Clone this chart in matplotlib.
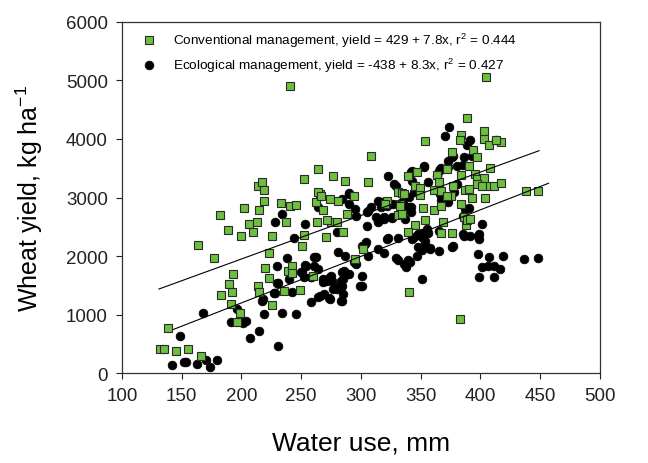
import matplotlib
matplotlib.use("Agg")
import matplotlib.pyplot as plt
import numpy as np

# conventional management (green squares): water use (mm), yield (kg/ha)
conv_x = [132, 135, 139, 145, 155, 166,
          164, 177, 182, 189, 200, 202, 206, 210, 213, 215, 214, 217, 219, 219,
          226, 223, 220, 223, 214, 215, 193, 190, 192, 183, 191, 199, 196,
          226, 236, 239, 242, 242,
          233, 237, 241, 246, 252, 251, 252, 262, 266, 263, 268, 274, 271, 275, 280, 281, 288, 285, 287, 294,
          260, 249, 306, 264, 267, 272, 264, 277, 241, 308,
          302, 295,
          322, 331, 333, 331, 320, 333, 334,
          389, 354, 384, 383, 403, 403, 407, 417, 413,
          376, 394, 397, 372, 390, 408,
          364, 384, 395, 397, 403, 339, 347, 365,
          397, 401, 408, 411, 417, 345, 349, 361, 367, 377, 387, 390,
          336, 349, 375, 393, 404, 438, 448,
          352, 361, 367, 384, 354, 369, 345, 386, 388, 334, 372,
          339, 367, 376, 389, 391,
          340, 383, 405]
conv_y = [420, 420, 780, 385, 420, 290,
          2190, 1965, 2700, 2440, 2350, 2830, 2550, 2420, 2590, 2790, 3200, 3260, 3130, 2940,
          2350, 2060, 1800, 1630, 1490, 1390, 1690, 1520, 1390, 1345, 1190, 1030, 875,
          1160, 1410, 1745, 1830, 1715,
          2910, 2580, 2855, 2880, 2365, 2180, 3320, 2920, 3065, 2580, 2780, 2980, 2335, 2580, 2590, 2950, 2720, 2420, 3275, 3025,
          1660, 1425, 3265, 3100, 3035, 2610, 3490, 3370, 4900, 3710,
          2125, 1955,
          2950, 3095, 2895, 2705, 2890, 2865, 3080,
          4360, 3965, 4070, 3975, 4130, 4005, 3890, 3945, 3990,
          3785, 3820, 3685, 3490, 3545, 3500,
          3390, 3390, 3405, 3320, 3330, 3360, 3445, 3265,
          3235, 3205, 3205, 3205, 3245, 3205, 3160, 3130, 3120, 3205, 3135, 3150,
          3065, 3045, 3035, 2990, 3000, 3120, 3120,
          2820, 2795, 2865, 2895, 2620, 2580, 2535, 2665, 2525, 2725, 3025,
          2410, 2395, 2395, 2610, 2640,
          1395, 930, 5065]

# ecological management (black circles)
eco_x = [142, 154, 152, 163, 170, 174, 180, 149, 168, 196, 191, 198, 201, 204, 207, 215,
         217, 219, 231, 227, 234, 246, 231, 230, 238, 240, 242, 253, 244, 252, 253, 251, 258, 262,
         264, 268, 274, 277, 274, 266, 258, 228, 234, 264, 284, 290, 290, 295, 296, 305, 305, 314,
         314, 280, 281, 287, 284, 288, 285, 294, 296, 301, 299, 301, 303, 306, 314,
         264, 269, 273, 278, 284,
         304, 322, 331, 319, 329, 331,
         254, 261, 261, 250, 230, 228, 218,
         276, 272, 268, 275, 283, 284, 280, 285, 283, 290, 286, 258,
         344, 348, 351, 355, 354, 348, 351, 358, 347, 339, 336, 341, 338, 365, 376, 386, 391,
         398, 399, 398, 407, 419, 436, 448, 401, 406, 411, 416, 399, 411, 351, 401,
         328, 344, 356, 380, 378, 367, 366, 317, 308,
         327, 335, 341, 335, 342, 337, 319, 314, 326,
         323, 343, 351, 352, 355, 356, 353, 358, 377, 365,
         385, 399, 387, 301,
         374, 370, 391, 389, 413, 376, 373, 367, 365, 386, 393, 385, 353, 343, 340, 334,
         337, 342, 368, 373, 390, 385,
         323, 329, 290, 306, 317, 322, 313, 319, 326,
         394, 353, 342, 343, 366, 364, 373, 377, 380]
eco_y = [145, 190, 200, 155, 230, 115, 225, 638, 1028, 1105, 885, 900, 862, 901, 601, 731,
         1243, 1016, 475, 1369, 1035, 1016, 1545, 1830, 1972, 1613, 1397, 2552, 2319, 1642, 1852, 1738, 1653, 1983,
         1784, 1613, 1642, 1442, 1271, 1328, 1215, 2591, 2723, 2837, 2979, 3064, 2893, 2808, 2694, 2752, 2523, 2950,
         2608, 2410, 2069, 2000, 1727, 1698, 1613, 1898, 1869, 1670, 1499, 2182, 2210, 2011, 2125,
         1301, 1357, 1284, 1471, 1243,
         2240, 2296, 2313, 2051, 1966, 1937,
         1840, 1840, 1983, 1727, 1540, 1369, 1272,
         1584, 1584, 1556, 1670, 1584, 1499, 1442, 1357, 1243, 1698, 1755, 1642,
         2324, 2381, 2336, 2427, 2256, 2154, 2108, 2142, 2011, 1937, 1869, 1898, 1823, 2096, 2165, 2353, 2353,
         2353, 2296, 2040, 1983, 2000, 1954, 1966, 1812, 1840, 1840, 1784, 1642, 1642, 1613, 2552,
         3235, 3093, 3264, 3235, 3093, 2967, 3064, 2922, 2837,
         2893, 2893, 2837, 2779, 2751, 2637, 2637, 2591, 2649,
         2307, 2296, 2398, 2324, 2466, 2398, 2182, 2125, 2182, 2438,
         2381, 2381, 2808, 1488,
         4201, 4059, 3974, 3889, 3974, 3690, 3616, 3502, 3462, 3690, 3718, 3559, 3530, 3462, 3007, 2922,
         2865, 2837, 2979, 2922, 2819, 2683,
         3376, 3206, 3081, 2779, 2837, 2865, 2666, 2666, 2666,
         3746, 3547, 3434, 3291, 3491, 3376, 3519, 3718, 3547]

# fitted lines as drawn in the figure (end points)
conv_fit_x = [131, 449]
conv_fit_y = [1440, 3800]
eco_fit_x = [143, 457]
eco_fit_y = [750, 3245]

conv_label = "Conventional management, yield = 429 + 7.8x, r$^2$ = 0.444"
eco_label = "Ecological management, yield = -438 + 8.3x, r$^2$ = 0.427"

plt.rcParams["font.family"] = ["Liberation Sans", "DejaVu Sans"]
plt.rcParams["mathtext.default"] = "regular"

fig = plt.figure(figsize=(6.48, 4.64), dpi=100)
ax = fig.add_axes([0.188, 0.193, 0.738, 0.758])

eco_pts, = ax.plot(eco_x, eco_y, "o", ms=6.3, color="black", mec="black", mew=0.5, zorder=2,
                   label=eco_label)
conv_pts, = ax.plot(conv_x, conv_y, "s", ms=6.0, color="#6cbf3f", mec="#2a2a2a", mew=0.8, zorder=3,
                    label=conv_label)

ax.plot(conv_fit_x, conv_fit_y, color="black", lw=0.8, zorder=4)
ax.plot(eco_fit_x, eco_fit_y, color="black", lw=0.8, zorder=4)

ax.set_xlim(100, 500)
ax.set_ylim(0, 6000)
ax.set_xticks(np.arange(100, 501, 50))
ax.set_yticks(np.arange(0, 6001, 1000))
ax.tick_params(direction="out", length=4, width=0.8, labelsize=13.5, colors="#222222", pad=6)
ax.tick_params(top=False, right=False)
for sp in ax.spines.values():
    sp.set_linewidth(0.9)
    sp.set_color("#333333")

ax.set_xlabel("Water use, mm", fontsize=19, labelpad=19)
ax.set_ylabel("Wheat yield, kg ha$^{-1}$", fontsize=18, labelpad=15)

ax.legend([conv_pts, eco_pts], [conv_label, eco_label], loc="upper left", frameon=False,
          fontsize=9.7, handletextpad=1.2, borderaxespad=0.3, labelspacing=0.5,
          handlelength=1.2, bbox_to_anchor=(0.02, 1.0))

fig.savefig("out.png", dpi=100)
